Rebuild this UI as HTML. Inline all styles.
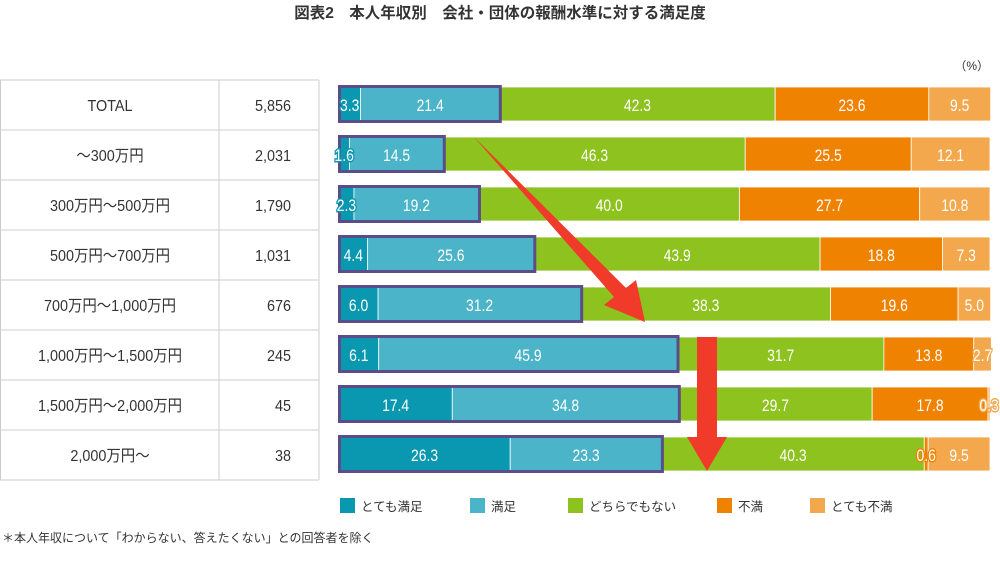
<!DOCTYPE html>
<html><head><meta charset="utf-8">
<style>
body{margin:0;width:1000px;height:556px;background:#fff;overflow:hidden;font-family:"Liberation Sans","Noto Sans CJK JP",sans-serif;}
svg text{font-family:"Liberation Sans","Noto Sans CJK JP",sans-serif;}
</style></head><body>
<svg id="c" width="1000" height="556"></svg>
<script>
const categories=["TOTAL","～300万円","300万円～500万円","500万円～700万円","700万円～1,000万円","1,000万円～1,500万円","1,500万円～2,000万円","2,000万円～"];
const counts=["5,856","2,031","1,790","1,031","676","245","45","38"];
const seriesNames=["とても満足","満足","どちらでもない","不満","とても不満"];
const veryS=[3.3,1.6,2.3,4.4,6.0,6.1,17.4,26.3];
const sat=[21.4,14.5,19.2,25.6,31.2,45.9,34.8,23.3];
const neutral=[42.3,46.3,40.0,43.9,38.3,31.7,29.7,40.3];
const dis=[23.6,25.5,27.7,18.8,19.6,13.8,17.8,0.6];
const veryD=[9.5,12.1,10.8,7.3,5.0,2.7,0.3,9.5];
const colors=["#0a97b0","#4bb4c8","#8dc21f","#ef8200","#f4a84e"];
const series=[veryS,sat,neutral,dis,veryD];
const NS="http://www.w3.org/2000/svg";
const svg=document.getElementById('c');
function el(t,a,p){const e=document.createElementNS(NS,t);for(const k in a)e.setAttribute(k,a[k]);(p||svg).appendChild(e);return e;}
const x0=339,x1=990;
const xs=v=>x0+v/100*(x1-x0);
const rowTop=i=>80+i*50;
const barH=34;
// narrow text helper: horizontal squeeze around anchor x
function narrow(e,x,f){e.setAttribute('transform','translate('+x+',0) scale('+f+',1) translate('+(-x)+',0)');}
let t=el('text',{x:500,y:18,'text-anchor':'middle','font-size':15.5,'font-weight':'bold',fill:'#333'});
t.textContent="図表2　本人年収別　会社・団体の報酬水準に対する満足度";


t=el('text',{x:989,y:70,'text-anchor':'end','font-size':12,fill:'#333'});t.textContent="（%）";


const tg=el('g',{});


for(let i=0;i<=categories.length;i++){el('line',{x1:0,x2:319,y1:rowTop(i),y2:rowTop(i),stroke:'#ccc','stroke-width':1},tg);}
el('line',{x1:0.5,x2:0.5,y1:80,y2:480,stroke:'#ccc'},tg);
el('line',{x1:219,x2:219,y1:80,y2:480,stroke:'#ccc'},tg);
el('line',{x1:319,x2:319,y1:80,y2:480,stroke:'#ccc'},tg);
categories.forEach((c,i)=>{
  let a=el('text',{x:110,y:rowTop(i)+31,'text-anchor':'middle','font-size':16,fill:'#333'},tg);a.textContent=c;
  narrow(a,110,0.9);
  
  
  let b=el('text',{x:291,y:rowTop(i)+31,'text-anchor':'end','font-size':16,fill:'#333'},tg);b.textContent=counts[i];
  narrow(b,291,0.9);
  
  
});
const labels=[];
categories.forEach((c,i)=>{
  const y=rowTop(i)+7;let acc=0;
  series.forEach((s,k)=>{
    const v=s[i];const xa=xs(acc),xb=xs(acc+v);
    const r=el('rect',{x:xa,y:y,width:xb-xa,height:barH,fill:colors[k],stroke:'#fff','stroke-width':0.8});
    
    
    labels.push({x:(xa+xb)/2,y:y+24,v:v,k:k,small:(xb-xa)<24});
    acc+=v;
  });
});
categories.forEach((c,i)=>{
  const y=rowTop(i)+7;
  const hb=el('rect',{x:x0+0.5,y:y-0.5,width:xs(veryS[i]+sat[i])-x0,height:barH+1,fill:'none',stroke:'#5b4d8a','stroke-width':3});
  
  
});
labels.forEach(L=>{
  const tx=el('text',{x:L.x,y:L.y,'text-anchor':'middle','font-size':17,fill:'#fff'});
  if(L.small){tx.setAttribute('stroke',colors[L.k]);tx.setAttribute('stroke-width',3);tx.setAttribute('paint-order','stroke');}
  tx.textContent=L.v.toFixed(1);
  narrow(tx,L.x,0.82);
  
  
});
let ar=el('polygon',{points:"474,137 626,288 636,280 645,322 604,305 614,297",fill:'#f03a2a'});


ar=el('polygon',{points:"697,337 717,337 717,437 727,437 707,471 687,437 697,437",fill:'#f03a2a'});


const lx=[340,470,568,717,810];
seriesNames.forEach((n,k)=>{
  const g=el('g',{});
  
  
  el('rect',{x:lx[k],y:498,width:15,height:15,fill:colors[k]},g);
  const tt=el('text',{x:lx[k]+21,y:511,'font-size':12.5,fill:'#333'},g);tt.textContent=n;
});
t=el('text',{x:2,y:542,'font-size':12,fill:'#333'});t.textContent="＊本人年収について「わからない、答えたくない」との回答者を除く";


</script>
</body></html>
